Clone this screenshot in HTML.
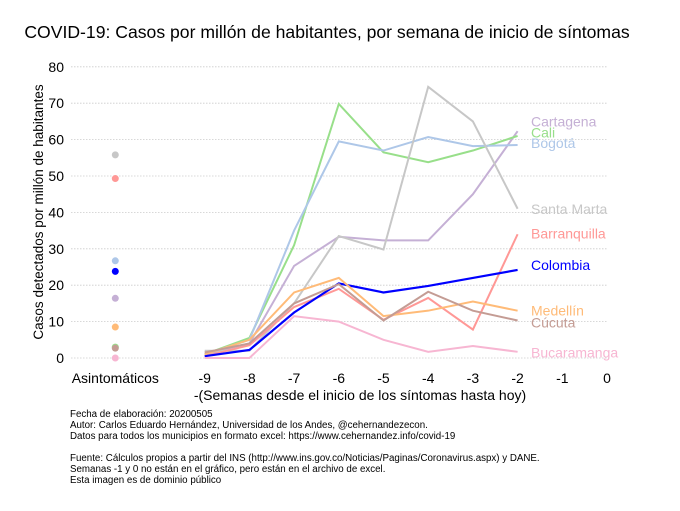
<!DOCTYPE html>
<html><head><meta charset="utf-8"><style>
body{margin:0;background:#fff;font-family:"Liberation Sans",sans-serif}
svg text{font-family:"Liberation Sans",sans-serif}
</style></head><body>
<svg id="chart" width="680" height="506">
<text x="327" y="38" font-size="17.6" text-anchor="middle">COVID-19: Casos por millón de habitantes, por semana de inicio de síntomas</text>
<g id="grid"></g><g id="series"></g><g id="ticks"></g>
<text transform="translate(43,212) rotate(-90)" font-size="13.5" text-anchor="middle">Casos detectados por millón de habitantes</text>
<text x="360" y="400" font-size="14" text-anchor="middle">-(Semanas desde el inicio de los síntomas hasta hoy)</text>
<g font-size="9.75">
<text x="70" y="417">Fecha de elaboración: 20200505</text>
<text x="70" y="428">Autor: Carlos Eduardo Hernández, Universidad de los Andes, @cehernandezecon.</text>
<text x="70" y="439">Datos para todos los municipios en formato excel: https://www.cehernandez.info/covid-19</text>
<text x="70" y="461">Fuente: Cálculos propios a partir del INS (http://www.ins.gov.co/Noticias/Paginas/Coronavirus.aspx) y DANE.</text>
<text x="70" y="472">Semanas -1 y 0 no están en el gráfico, pero están en el archivo de excel.</text>
<text x="70" y="483">Esta imagen es de dominio público</text>
</g>
</svg>
<script>
const weeks=[-9,-8,-7,-6,-5,-4,-3,-2];
const yTicks=[0,10,20,30,40,50,60,70,80];
const xTickVals=[-11,-9,-8,-7,-6,-5,-4,-3,-2,-1,0];
const xTickLabels=["Asintomáticos","-9","-8","-7","-6","-5","-4","-3","-2","-1","0"];
const names=["Cartagena","Cali","Bogotá","Santa Marta","Barranquilla","Colombia","Medellín","Cúcuta","Bucaramanga"];
const colors=["#c5b0d5","#98df8a","#aec7e8","#c7c7c7","#ff9896","#0000ff","#ffbb78","#c49c94","#f7b6d2"];
const cartagena=[1,4,25.3,33.3,32.3,32.3,45,62.3];
const cali=[1,5.5,31,69.8,56.5,53.8,57,61];
const bogota=[1,5,35,59.5,57,60.7,58.2,58.5];
const santaMarta=[2,2,15,33.5,29.8,74.5,65,41];
const barranquilla=[0.5,3.5,14,19,10.5,16.5,7.8,34];
const colombia=[0.5,2.2,12.5,20.5,18,19.8,22,24.2];
const medellin=[1,5,18,22,11.5,13,15.5,13];
const cucuta=[1.5,4,15,20.3,10.3,18.2,13,10.3];
const bucaramanga=[0,0,11.5,10,5,1.7,3.3,1.7];
const asint=[16.4,3,26.7,55.8,49.3,23.8,8.5,2.7,0];
const labelY=[65,62,59,41,34.2,25.5,13,9.7,1.5];
const seriesData=[cartagena,cali,bogota,santaMarta,barranquilla,colombia,medellin,cucuta,bucaramanga];
const NS="http://www.w3.org/2000/svg";
const x=v=>607+v*44.7, y=v=>358-v*3.64;
function mk(t,a,p){const e=document.createElementNS(NS,t);for(const k in a)e.setAttribute(k,a[k]);p.appendChild(e);return e;}
const g=document.getElementById('grid'),s=document.getElementById('series'),tk=document.getElementById('ticks');
yTicks.forEach(v=>{
 const l=mk('line',{x1:71,x2:607,y1:y(v),y2:y(v),stroke:'#ccc','stroke-width':0.8,'stroke-dasharray':'1.5,1.5'},g);
 
 
 const t=mk('text',{x:64,y:y(v)+5,'font-size':14,'text-anchor':'end'},tk);t.textContent=v;
 
 
});
xTickVals.forEach((v,i)=>{
 const t=mk('text',{x:x(v),y:383,'font-size':14,'text-anchor':'middle'},tk);t.textContent=xTickLabels[i];
 
 
});
seriesData.forEach((d,i)=>{
 const p=mk('polyline',{points:d.map((v,j)=>x(weeks[j])+','+y(v)).join(' '),fill:'none',stroke:colors[i],'stroke-width':i==5?2.2:2},s);
 
 
 const c=mk('circle',{cx:x(-11),cy:y(asint[i]),r:3.5,fill:colors[i]},s);
 
 
 const t=mk('text',{x:531,y:y(labelY[i])+5,'font-size':14,fill:colors[i]},s);t.textContent=names[i];
 
 
});
</script>
</body></html>
